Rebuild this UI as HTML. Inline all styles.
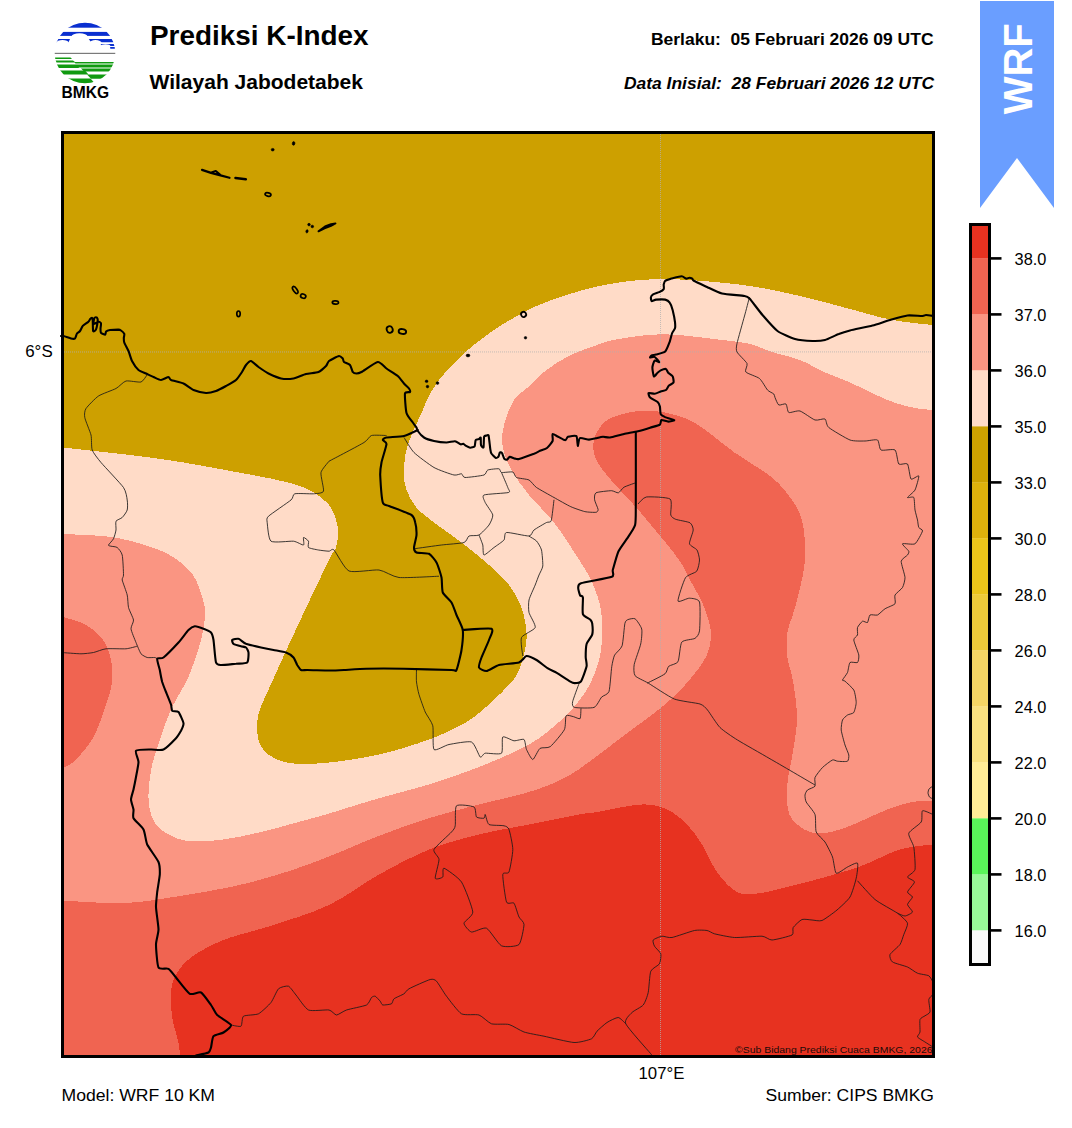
<!DOCTYPE html>
<html><head><meta charset="utf-8">
<style>
html,body{margin:0;padding:0;background:#fff;}
body{width:1072px;height:1128px;position:relative;overflow:hidden;font-family:"Liberation Sans",sans-serif;color:#000;}
.t{position:absolute;white-space:nowrap;line-height:1;}
svg{position:absolute;left:0;top:0;}
</style></head><body>
<svg width="1072" height="1128" viewBox="0 0 1072 1128" font-family="'Liberation Sans', sans-serif">
<defs><clipPath id="logoc"><circle cx="85" cy="53" r="30.3"/></clipPath></defs>
<g clip-path="url(#logoc)">
<rect x="50" y="20" width="70" height="7.7" fill="#0A2FD0"/>
<rect x="50" y="31.9" width="70" height="4" fill="#0A2FD0"/>
<path d="M50,39.1 H70 L68.5,42.2 H50 Z" fill="#0A2FD0"/>
<path d="M88.8,39.1 H120 V42.2 H91 Z" fill="#0A2FD0"/>
<path d="M100.5,44 H120 V45.9 H102 Z" fill="#0A2FD0"/>
<path d="M109.5,47.1 H120 V48.7 H110.5 Z" fill="#0A2FD0"/>
<ellipse cx="79.5" cy="36.4" rx="8" ry="3.2" fill="#fff"/>
<ellipse cx="62.5" cy="42.6" rx="6" ry="2.6" fill="#fff"/>
<ellipse cx="95.5" cy="42.8" rx="6" ry="2.7" fill="#fff"/>
<ellipse cx="105.5" cy="46.5" rx="5" ry="2.2" fill="#fff"/>
<rect x="50" y="52.8" width="70" height="1.2" fill="#7a7a7a"/>
<path d="M50,57.6 H70.5 L72,59 H50 Z" fill="#109A10"/>
<path d="M50,60.4 H73 L75,62 H120 V63.6 H75.5 L74.5,62.4 H50 Z" fill="#109A10"/>
<path d="M50,64.4 H120 V67.4 H79 L78.5,68 H50 Z" fill="#109A10"/>
<path d="M81,68.6 H120 V71.6 H84 Z" fill="#109A10"/>
<path d="M50,70.6 H85 L88.5,74.6 H50 Z" fill="#109A10"/>
<path d="M87,74.6 H120 V78.8 H91 Z" fill="#109A10"/>
<path d="M50,78.6 H90.5 L94,82.5 L89,84 H50 Z" fill="#109A10"/>
</g>
<text x="61.6" y="97.7" font-size="16" font-weight="bold" textLength="47.6" lengthAdjust="spacingAndGlyphs">BMKG</text>
<text x="150" y="45" font-size="28" font-weight="bold" textLength="218.5" lengthAdjust="spacingAndGlyphs">Prediksi K-Index</text>
<text x="149.5" y="88.8" font-size="20.8" font-weight="bold" textLength="213.5" lengthAdjust="spacingAndGlyphs">Wilayah Jabodetabek</text>
<text x="651" y="44.8" font-size="16.4" font-weight="bold" textLength="282.5" lengthAdjust="spacingAndGlyphs" xml:space="preserve">Berlaku:  05 Februari 2026 09 UTC</text>
<text x="624" y="88.7" font-size="16.4" font-weight="bold" font-style="italic" textLength="310" lengthAdjust="spacingAndGlyphs" xml:space="preserve">Data Inisial:  28 Februari 2026 12 UTC</text>
<path d="M980,1 L1054,1 L1054,208 L1017,158 L980,208 Z" fill="#6A9EFF"/>
<text transform="translate(1031.9,68.8) rotate(-90)" font-size="40" font-weight="bold" fill="#fff" text-anchor="middle">WRF</text>
<rect x="61" y="131" width="874" height="927" fill="#FFDBC7"/>
<path d="M935,325 C934.5,325 939.5,325.9 932,325 C924.5,324.1 903.7,322.2 890,319.5 C876.3,316.8 865,312.9 850,309 C835,305.1 816.7,299.8 800,296 C783.3,292.2 767.2,288.6 750,286 C732.8,283.4 711.2,281.6 697,280.5 C682.8,279.4 675.4,279.3 665,279.3 C654.6,279.3 645.8,279.3 634.5,280.5 C623.2,281.7 608.3,284.1 597,286.5 C585.7,288.9 576.6,291.8 566.5,295 C556.4,298.2 546.9,301.2 536.5,306 C526.1,310.8 513.6,317.7 504,323.5 C494.4,329.3 485.7,336 479,341 C472.3,346 469.4,348.5 464,353.5 C458.6,358.5 451.9,364.8 446.5,371 C441.1,377.2 435.7,384 431.5,391 C427.3,398 425.5,404 421.5,413 C417.5,422 410.7,435.5 407.8,445 C404.8,454.5 404.2,462.5 404,470 C403.8,477.5 404.4,483.8 406.5,490 C408.6,496.2 411.9,502.1 416.5,507.5 C421.1,512.9 426.5,516.7 434,522.5 C441.5,528.3 452.3,535.4 461.5,542.5 C470.7,549.6 481.1,557.9 489,565 C496.9,572.1 503.6,577.9 509,585 C514.4,592.1 518.6,599.6 521.5,607.5 C524.4,615.4 525.9,625.4 526.5,632.5 C527.1,639.6 526.2,643.8 525,650 C523.8,656.2 521.2,664.7 519,670 C516.8,675.3 516.1,676.7 511.5,682 C506.9,687.3 499,695.3 491.5,702 C484,708.7 476.9,715.8 466.5,722 C456.1,728.2 443.6,734.1 429,739.5 C414.4,744.9 395.7,750.7 379,754.5 C362.3,758.3 343.7,761 329,762.5 C314.3,764 301.1,764.6 291,763.2 C280.9,761.9 273.9,758.5 268.5,754.5 C263.1,750.5 260.2,746.2 258.5,739.5 C256.8,732.8 256.2,724.1 258.5,714.5 C260.8,704.9 265.4,696.9 272,682 C278.6,667.1 288.5,645.3 298,625 C307.5,604.7 322.7,572.8 329,560 C335.3,547.2 334.5,552.7 336,548 C337.5,543.3 338,536.7 338,532 C338,527.3 337.5,524.5 336,520 C334.5,515.5 333.2,509.8 329,505 C324.8,500.2 318.2,494.8 311,491 C303.8,487.2 298.5,485.2 286,482 C273.5,478.8 256.8,475.8 236,472 C215.2,468.2 189.8,463.1 161,459 C132.2,454.9 79.7,449.4 63,447.5 C46.3,445.6 61.3,447.5 61,447.5 L61,131 L935,131 Z" fill="#CDA000" shape-rendering="crispEdges"/>
<path d="M61,534 C61.3,534 54.7,533.5 63,534 C71.3,534.5 96.8,535 111,537 C125.2,539 137.7,542.7 148,546 C158.3,549.3 165.5,552.2 173,557 C180.5,561.8 188,567.8 193,575 C198,582.2 201,593 203,600 C205,607 205.3,610.3 205,617 C204.7,623.7 203,632 201,640 C199,648 195.5,658 193,665 C190.5,672 189.7,674.6 186,682 C182.3,689.4 175.2,700.3 171,709.5 C166.8,718.7 164.1,727.8 161,737 C157.9,746.2 154.3,754.9 152.2,764.5 C150.2,774.1 148.7,786.2 148.5,794.5 C148.3,802.8 148.9,808.7 151,814.5 C153.1,820.3 155.2,825.1 161,829.5 C166.8,833.9 175.6,839.1 186,840.8 C196.4,842.4 211,841 223.5,839.5 C236,838 248.5,834.9 261,832 C273.5,829.1 287.2,825.1 298.5,822 C309.8,818.9 315.6,817.5 329,813.5 C342.4,809.5 362.3,803.1 379,798.2 C395.7,793.4 412.3,789.7 429,784.5 C445.7,779.3 462.3,773.7 479,767 C495.7,760.3 515.7,752 529,744.5 C542.3,737 551.3,728.5 558.7,722.3 C566.1,716.1 568.6,713.3 573.6,707.4 C578.6,701.5 584.5,694 588.5,686.9 C592.5,679.8 595.6,671.6 597.8,664.5 C600,657.4 601,652.1 601.6,644 C602.2,635.9 602.2,623.8 601.6,616 C601,608.2 599.7,603.5 597.8,597.3 C595.9,591.1 593.5,584.9 590.4,578.7 C587.3,572.5 585.3,569.4 579.2,560 C573.1,550.6 562.4,533.3 554,522.5 C545.6,511.7 536.1,503.8 529,495 C521.9,486.2 515.9,477.9 511.5,470 C507.1,462.1 504,455 502.8,447.5 C501.5,440 502.1,432.9 504,425 C505.9,417.1 510.2,406.1 514,400 C517.8,393.9 521.1,393.5 526.5,388.5 C531.9,383.5 539.4,375.4 546.5,370 C553.6,364.6 560.6,360.2 569,356 C577.4,351.8 588.5,347.9 597,345 C605.5,342.1 608.7,340.6 620,338.8 C631.3,337 648,334.1 665,334.3 C682,334.5 707.8,338.4 722,340 C736.2,341.6 741.7,342 750,344 C758.3,346 763.7,349.3 772,352 C780.3,354.7 791.7,356.8 800,360 C808.3,363.2 813.7,367.2 822,371 C830.3,374.8 839.1,377.7 850,382.5 C860.9,387.3 877.1,395.8 887.5,400 C897.9,404.2 905.1,405.8 912.5,407.5 C919.9,409.2 928.2,409.6 932,410 C935.8,410.4 934.5,410 935,410 L935,1058 L61,1058 Z" fill="#FA9582" shape-rendering="crispEdges"/>
<path d="M61,900.8 C61.4,900.8 53.1,900.4 63.5,900.8 C73.9,901.1 105.2,903.6 123.5,903 C141.8,902.4 154.8,899.9 173.5,897 C192.2,894.1 217.2,889.9 236,885.8 C254.8,881.6 270.5,876.9 286,872 C301.5,867.1 313.5,862.5 329,856.5 C344.5,850.5 362.3,842.1 379,835.8 C395.7,829.4 412.3,823.5 429,818.2 C445.7,813 462.3,808.9 479,804.5 C495.7,800.1 514.4,796.6 529,792 C543.6,787.4 555.2,783 566.5,777 C577.8,771 587.4,762.9 597,756 C606.6,749.1 614.9,742.2 624,735.4 C633.1,728.5 643.5,721.4 651.9,714.9 C660.3,708.4 667.4,702.7 674.3,696.2 C681.1,689.7 687.7,682.2 693,675.7 C698.3,669.2 703,662.9 706,657 C709,651.1 710.1,645.5 710.7,640.2 C711.3,634.9 711.2,631.5 709.8,625.3 C708.4,619.1 705.7,610.7 702.3,602.9 C698.9,595.1 693,585.6 689.3,578.7 C685.6,571.8 683.9,567.2 680,561.3 C676.1,555.4 670.7,548.9 666,543.1 C661.3,537.3 656.7,531.9 652,526.3 C647.3,520.7 642.7,514.9 638,509.5 C633.3,504.1 628.7,499.3 624,494.2 C619.3,489.1 614.4,484.2 610,478.8 C605.6,473.4 600.2,467.1 597.4,462 C594.6,456.9 593.4,452.7 593.2,448 C593,443.3 593.7,438.7 596,434 C598.3,429.3 602,423.5 607.2,420 C612.4,416.5 621.1,414.5 627,413 C632.9,411.5 636.2,411.2 642.6,411.1 C649,411 656.4,410.6 665.2,412.6 C674,414.6 683.8,416.5 695.3,423.1 C706.8,429.8 721.7,443.4 734.5,452.5 C747.3,461.6 762.4,469.6 772,477.5 C781.6,485.4 787,492.9 792,500 C797,507.1 799.8,512.5 802,520 C804.2,527.5 804.7,536.7 805,545 C805.3,553.3 805.4,559.6 803.8,570 C802.1,580.4 797.7,597.1 795,607.5 C792.3,617.9 788.8,624.2 787.5,632.5 C786.2,640.8 786.5,649.2 787.5,657.5 C788.5,665.8 791.7,671.7 793.2,682 C794.8,692.3 797.2,707 797,719.5 C796.8,732 793.7,745.8 792,757 C790.3,768.2 787.4,777.4 787,787 C786.6,796.6 786.6,807.4 789.5,814.5 C792.4,821.6 799.1,826.4 804.5,829.5 C809.9,832.6 814.9,833.7 822,833.2 C829.1,832.8 836.1,831 847,827 C857.9,823 876.6,813.7 887.5,809.5 C898.4,805.3 905.1,803.5 912.5,802 C919.9,800.5 928.2,801 932,800.8 C935.8,800.5 934.5,800.8 935,800.8 L935,1058 L61,1058 Z" fill="#F06451" shape-rendering="crispEdges"/>
<path d="M61,617 C61.3,617 58.8,615.7 63,617 C67.2,618.3 79.3,621.2 86,625 C92.7,628.8 98.8,634.2 103,640 C107.2,645.8 109.5,653 111,660 C112.5,667 112.8,674.6 112,682 C111.2,689.4 109.1,695.3 106,704.5 C102.9,713.7 98.5,727.8 93.5,737 C88.5,746.2 81,754.3 76,759.5 C71,764.7 66,766.6 63.5,768 C61,769.4 61.4,768 61,768  Z" fill="#F06451" shape-rendering="crispEdges"/>
<path d="M180,1058 C180,1057.5 180,1057.6 179.8,1055 C179.5,1052.4 179.8,1048.8 178.5,1042.5 C177.2,1036.2 173.5,1025.8 172.2,1017.5 C171,1009.2 170.4,999.6 171,992.5 C171.6,985.4 172.7,980.8 176,975 C179.3,969.2 183.1,963.3 191,957.5 C198.9,951.7 209.8,945.4 223.5,940 C237.2,934.6 255.9,930.8 273.5,925 C291.1,919.2 311.4,913.4 329,905 C346.6,896.6 362.3,883.8 379,874.5 C395.7,865.2 412.3,856.2 429,849.5 C445.7,842.8 462.3,838.7 479,834.5 C495.7,830.3 512.3,827.8 529,824.5 C545.7,821.2 567.7,816.6 579,814.5 C590.3,812.4 586.5,813.7 597,812 C607.5,810.3 630.3,804.9 642,804.5 C653.7,804.1 659.5,806.2 667,809.5 C674.5,812.8 681.2,818.7 687,824.5 C692.8,830.3 697,836.6 702,844.5 C707,852.4 711.2,864.1 717,872 C722.8,879.9 729.9,888.5 737,892 C744.1,895.5 749.5,894.5 759.5,893.2 C769.5,892 784.5,887.6 797,884.5 C809.5,881.4 823.2,877.8 834.5,874.5 C845.8,871.2 854.1,868.7 865,864.5 C875.9,860.3 888.8,852.8 900,849.5 C911.2,846.2 926.2,845.3 932,844.5 C937.8,843.7 934.5,844.5 935,844.5 L935,1058 Z" fill="#E73220" shape-rendering="crispEdges"/>
<line x1="62" y1="352" x2="934" y2="351.9" stroke="#b0b0b0" stroke-opacity="0.75" stroke-width="1" stroke-dasharray="1,1"/>
<line x1="660.5" y1="132" x2="660.5" y2="1057" stroke="#b0b0b0" stroke-opacity="0.75" stroke-width="1" stroke-dasharray="1,1"/>
<path d="M147,375 C146.4,375.7 143.1,381.4 141,382 C138.9,382.6 128.5,380.4 126,381 C123.5,381.6 118.8,387 116,388.5 C113.2,390 101.5,394 98.5,396 C95.5,398 87.4,406.4 86,408.5 C84.6,410.6 84.2,414.9 84.8,417.5 C85.2,420.1 90.2,431.8 91,435 C91.8,438.2 91.2,447.2 92.2,450 C93.2,452.8 97.9,458.8 101,462.5 C104.1,466.2 120.9,483.8 123.5,487.5 C126.1,491.2 126.9,497.8 127.2,500 C127.6,502.2 127.8,508.2 127.2,510 C126.8,511.8 123.4,516.4 122.2,517.5 C121.1,518.6 116.6,520 116,521.2 C115.4,522.5 116.2,528.2 116,530 C115.8,531.8 114.2,537.2 113.5,538.8 C112.8,540.2 108.8,544.2 108.5,545 C108.2,545.8 110.1,546 111,546.2 C111.9,546.5 116.1,546.6 117.2,547.5 C118.4,548.4 121.6,552.2 122.2,555 C122.9,557.8 123.5,572.5 123.5,575 C123.5,577.5 121.9,578 122.2,580 C122.6,582 126.6,592.2 127.2,595 C127.9,597.8 127.9,605 128.5,607.5 C129.1,610 133.2,617.9 133.5,620 C133.8,622.1 130.8,626.5 131,628.8 C131.2,631 135,640 136,642.5 C137,645 139.9,652.2 141,653.8 C142.1,655.2 145.9,657.1 147.2,657.5 C148.6,657.9 153.8,657.4 154.8,657.5 C155.8,657.6 157,658.6 157.2,658.8" fill="none" stroke="#1a1a1a" stroke-width="0.85" stroke-linejoin="round"/>
<path d="M61,652.5 C63,652.6 77.8,653.8 81,653.8 C84.2,653.8 91,653 93.5,652.5 C96,652 102.8,649.1 106,648.8 C109.2,648.4 122.9,649 126,648.8 C129.1,648.5 136.1,646.5 137.2,646.2" fill="none" stroke="#1a1a1a" stroke-width="0.85" stroke-linejoin="round"/>
<path d="M329,461.2 C328.2,462.4 321.6,469.5 321,472.5 C320.4,475.5 324.2,489.1 323.5,491.2 C322.8,493.4 316.4,493.5 313.5,493.8 C310.6,494 297,493.1 294.8,493.8 C292.5,494.4 293.6,497.8 291,500 C288.4,502.2 270.9,514 268.5,516.2 C266.1,518.5 267,520 267.2,522.5 C267.5,525 268.4,539.4 271,541.2 C273.6,543.1 290.2,540.9 293.5,541.2 C296.8,541.6 302.5,545.4 303.5,545 C304.5,544.6 303,537.9 303.5,537.5 C304,537.1 308,540.2 308.5,541.2 C309,542.2 307.5,546.6 308.5,547.5 C309.5,548.4 316.4,549.6 318.5,550 C320.6,550.4 327.4,551.2 329,551.2 C330.6,551.2 332,548 334,550 C336,552 344.5,569 349,571 C353.5,573 374,569.4 379,570 C384,570.6 393,576.9 399,577.5 C405,578.1 435,576.4 439,576.2" fill="none" stroke="#1a1a1a" stroke-width="0.85" stroke-linejoin="round"/>
<path d="M329,461.2 C332.5,459.4 359.8,445.1 364,442.5 C368.2,439.9 369.2,436.2 371.5,435.5 C373.8,434.8 385,435.5 386.5,435.5" fill="none" stroke="#1a1a1a" stroke-width="0.85" stroke-linejoin="round"/>
<path d="M404,437.5 C405,439 411,449.5 414,452.5 C417,455.5 430,465.2 434,467.5 C438,469.8 451.2,474.4 454,475 C456.8,475.6 460.4,473.5 461.5,473.8 C462.6,474 462.8,477.4 465,477.5 C467.2,477.6 481.7,475.8 484,475 C486.3,474.2 486.2,470.6 487.8,470 C489.2,469.4 497.6,468.5 499,468.8 C500.4,469 500.1,472.2 501.5,472.5 C502.9,472.8 511.2,471.5 512.8,472 C514.2,472.5 514.9,476.7 516.5,477.5 C518.1,478.3 527,479 529,480 C531,481 534,485.8 536.5,487.5 C539,489.2 550.6,495.6 554,497.5 C557.4,499.4 567.7,505.3 570.8,506.7 C573.9,508.1 582.3,511 584.8,511.6 C587.3,512.2 594.7,512.5 596,512.3 C597.3,512.1 598.2,510.8 598.1,509.5 C598,508.2 594.8,501.5 594.6,499.8 C594.4,498.1 594.3,493.7 596,492.8 C597.7,491.9 609.2,490.7 611.4,490.7 C613.6,490.7 617.1,493.2 618.4,492.8 C619.7,492.4 622.3,488.2 624,487.2 C625.7,486.2 634,483.4 635.1,483" fill="none" stroke="#1a1a1a" stroke-width="0.85" stroke-linejoin="round"/>
<path d="M501.5,472.5 C502.1,474 507.1,485.5 507.8,487.5 C508.4,489.5 510.9,491.8 508.5,492.5 C506.1,493.2 486.3,494 484,495 C481.7,496 484.4,500.5 485.2,502.5 C486.1,504.5 492.4,512.8 492.8,515 C493.1,517.2 490.4,523 489,525 C487.6,527 481,533.9 479,535 C477,536.1 470.5,535.2 469,536 C467.5,536.8 466.8,541.6 464,542.5 C461.2,543.4 446.5,544.4 441.5,545 C436.5,545.6 416.8,548.4 414,548.8" fill="none" stroke="#1a1a1a" stroke-width="0.85" stroke-linejoin="round"/>
<path d="M479,535 C479.4,536 482.2,543 482.8,545 C483.2,547 482.9,554.8 484,555 C485.1,555.2 492,549 494,547.5 C496,546 502.8,541.5 504,540 C505.2,538.5 504,532.9 506.5,532.5 C509,532.1 526.2,536.2 529,536 C531.8,535.8 532.2,531.4 534,530 C535.8,528.6 544.8,523.4 546.5,522.5 C548.2,521.6 550.5,523 551.2,520.7 C552,518.4 553.7,501.9 554,499.8" fill="none" stroke="#1a1a1a" stroke-width="0.85" stroke-linejoin="round"/>
<path d="M529,536.2 C529.8,536.7 535.2,539.6 536.5,541 C537.8,542.4 540.9,547.5 541.5,550 C542.1,552.5 543,563.5 542.8,566 C542.5,568.5 539.8,573.1 539,575 C538.2,576.9 536.2,582.5 535.2,585 C534.2,587.5 529.6,597.2 529,600 C528.4,602.8 528.4,609.8 529,612.5 C529.6,615.2 536,625 535.2,627.5 C534.5,630 522.8,634.6 521.5,637.5 C520.2,640.4 522.6,654.1 522.8,656" fill="none" stroke="#1a1a1a" stroke-width="0.85" stroke-linejoin="round"/>
<path d="M416.5,668.8 C416.5,670.1 416.2,679.4 416.5,682 C416.8,684.6 418.1,691.5 419,694.5 C419.9,697.5 423.9,708.9 425.2,712 C426.6,715.1 431.9,722 432.8,725.8 C433.6,729.5 432.4,747.6 434,749.5 C435.6,751.4 445.2,745.2 449,744.5 C452.8,743.8 468.4,740.8 471.5,742 C474.6,743.2 478.9,755.9 480.2,757 C481.6,758.1 483.1,753.6 485.2,753.2 C487.4,752.9 499.8,754.9 501.5,753.2 C503.2,751.6 501.5,738.2 502.8,737 C504,735.8 511.9,740.5 514,740.8 C516.1,741 522.8,738.6 524,739.5 C525.2,740.4 525.6,747.5 526.5,749.5 C527.4,751.5 531.4,759.6 532.8,759.5 C534.1,759.4 538.2,749.7 540,748.4 C541.8,747.1 547.9,748.5 550.3,746.6 C552.7,744.7 562.7,732.9 564.3,729.8 C565.9,726.7 565.2,717.1 566.1,715.8 C567,714.5 572.2,716.4 573.6,716.7 C575,717 579.4,719.4 580.1,718.6 C580.8,717.8 580.9,709.3 581,708.3" fill="none" stroke="#1a1a1a" stroke-width="0.85" stroke-linejoin="round"/>
<path d="M579.2,683.1 C578.5,685 573.1,699.4 572.6,701.8 C572.1,704.2 572.4,706.8 574.5,707.4 C576.6,708 591.4,708.4 594.1,707.4 C596.8,706.4 600.1,698.7 601.6,697.1 C603.1,695.5 608,694.6 609,691.5 C610,688.4 611.2,669.9 611.8,666.3 C612.4,662.7 613.6,657.1 614.6,655.1 C615.6,653.1 621.1,649 622.1,645.8 C623.1,642.6 624.3,626 624.9,623.4 C625.5,620.8 626.7,620.2 627.7,619.7 C628.7,619.2 633.7,617.9 635.1,618.8 C636.5,619.7 641.1,626.5 641.7,629 C642.3,631.5 641.5,640.5 640.7,644 C640,647.5 634.8,661.3 634.2,664.5 C633.6,667.7 633.7,673.8 635.1,675.7 C636.5,677.6 644.3,680.8 648.2,683.1 C652.1,685.4 669.1,696.9 674.3,699 C679.5,701.1 696.7,702.9 700,704 C703.3,705.1 705.5,707.6 707.5,710 C709.5,712.4 717,724.5 720,727.5 C723,730.5 732.5,736.9 737.5,740 C742.5,743.1 762.2,754.2 770,758.8 C777.8,763.2 810.5,782.4 815,785" fill="none" stroke="#1a1a1a" stroke-width="0.85" stroke-linejoin="round"/>
<path d="M647.3,683.1 C649.1,682.2 662.9,675.5 665,673.8 C667.1,672.1 667.4,667.5 668.7,666.3 C670,665.1 676.7,664.1 678,661.7 C679.3,659.3 680.1,644.4 681.8,642.1 C683.5,639.8 693.1,639.5 694.9,638.4 C696.7,637.3 699,634.5 699.5,630.9 C700,627.3 700.5,605.3 699.5,602 C698.5,598.7 691.4,598.3 689.3,598.2 C687.1,598.1 678.4,603 678,601 C677.6,599 683.6,580.7 685.5,577.7 C687.4,574.7 695.3,573 696.7,571.2 C698.1,569.4 699.5,562.1 699.5,560 C699.5,557.9 698,551.6 697,550 C696,548.4 689.9,545.8 689.5,543.8 C689.1,541.8 693.2,532.1 693.2,530 C693.3,527.9 691.8,523.9 690,522.8 C688.2,521.7 677.6,520.1 675.7,519.3 C673.8,518.5 671.4,517.1 670.8,515.1 C670.2,513.1 672.6,500.8 670.1,499 C667.6,497.2 649.5,496.5 646.3,497 C643.1,497.5 638.8,503.3 638,504" fill="none" stroke="#1a1a1a" stroke-width="0.85" stroke-linejoin="round"/>
<path d="M749.5,297 C749,298.9 745.8,311.4 744.5,316 C743.2,320.6 737.8,339.9 737,343.5 C736.2,347.1 736,350 737,352 C738,354 746.1,361.5 747,363.5 C747.9,365.5 744.5,370.5 745.8,372 C747,373.5 757.3,376.7 759.5,378.5 C761.7,380.3 766.1,388.4 767.5,390 C768.9,391.6 773,393.2 773.8,394 C774.5,394.8 774.5,396.4 775,397.5 C775.5,398.6 777.6,404.4 778.8,405 C779.9,405.6 785,403.2 786,404 C787,404.8 787.4,411.8 788.8,412.5 C790.1,413.2 797.4,410.2 800,411 C802.6,411.8 812.5,419.2 815,420 C817.5,420.8 823.6,418.2 825,419 C826.4,419.8 826.2,425.4 828.8,427.5 C831.2,429.6 846.4,438.6 850,440 C853.6,441.4 862.2,441 865,441 C867.8,441 875.9,439.1 877.5,440 C879.1,440.9 879.2,449 881,450 C882.8,451 893.2,448.6 895,450 C896.8,451.4 897.5,462.6 898.8,464 C900,465.4 906.3,462.5 907.5,464 C908.7,465.5 909.9,477.8 911,479 C912.1,480.2 918.4,474.9 918.8,476 C919.1,477.1 916.1,487.9 915,490 C913.9,492.1 907.6,496.8 907.5,497.5 C907.4,498.2 913,496.2 913.8,497.5 C914.5,498.8 914.6,507.8 915,510 C915.4,512.2 917.1,518.2 917.5,520 C917.9,521.8 918.2,526.4 918.8,527.5 C919.2,528.6 922.9,529.4 922.5,531 C922.1,532.6 917,542.5 915,543.8 C913,545 903.1,543 902.5,543.8 C901.9,544.5 908.2,550.1 908.8,551.2 C909.2,552.4 908.2,554 907.5,555 C906.8,556 901.5,559 901.2,561.2 C901,563.5 904.9,574.9 905,577.5 C905.1,580.1 903.5,585.8 902.5,587.5 C901.5,589.2 895.8,593.4 895,595 C894.2,596.6 896,602.4 895,603.8 C894,605.1 886.8,607.6 885,608.8 C883.2,609.9 879,614.4 877.5,615 C876,615.6 871,614.2 870,615 C869,615.8 868.2,621.9 867.5,622.5 C866.8,623.1 863.5,620.8 862.5,621.2 C861.5,621.8 858,626.1 857.5,627.5 C857,628.9 857.9,633.8 857.5,635 C857.1,636.2 853.6,638 853.8,640 C853.9,642 858.4,652.8 858.8,655 C859.1,657.2 858.4,661.8 857.5,662.5 C856.6,663.2 851,661.5 850,662.5 C849,663.5 848.2,670.8 847.5,672.5 C846.8,674.2 842.8,679.1 842.5,680 C842.2,680.9 843.9,680.2 845,681.2 C846.1,682.2 852.6,687.9 853.8,690 C854.9,692.1 856.2,700.2 856.2,702.5 C856.2,704.8 854.6,711.2 853.8,712.5 C852.9,713.8 848.6,714.2 847.5,715 C846.4,715.8 843.1,718.5 842.5,720 C841.9,721.5 841,727.5 841.2,730 C841.5,732.5 844.2,742.5 845,745 C845.8,747.5 848.5,753.4 848.8,755 C849,756.6 848.6,760.6 847.5,761.2 C846.4,761.9 839,761.4 837.5,761.2 C836,761.1 834,759.4 832.5,760 C831,760.6 824.2,765.8 822.5,767.5 C820.8,769.2 815.8,775.6 815,777.5 C814.2,779.4 815.8,785 815,786.2 C814.2,787.5 808.5,789.1 807.5,790 C806.5,790.9 805.1,793.8 805,795 C804.9,796.2 805.2,800 806.2,802 C807.2,804 814,811.5 815,814.5 C816,817.5 815.2,829.2 816.2,832 C817.2,834.8 823.4,839.5 825,842 C826.6,844.5 831.4,853.9 832.5,857 C833.6,860.1 834.8,872.2 836.2,873.2 C837.8,874.2 845.4,868 847.5,867 C849.6,866 856.6,862.1 857.5,863.2 C858.4,864.4 857,874.9 856.2,878.2 C855.5,881.6 851.9,893.8 850,897 C848.1,900.2 839.8,907.6 837,910 C834.2,912.4 824.5,919.5 822,920.5 C819.5,921.5 814,920.1 812,920 C810,919.9 803.9,918.8 802,919.5 C800.1,920.2 794.2,926 793.2,927.5 C792.2,929 794.1,933.8 792,935 C789.9,936.2 775,939.9 772,940 C769,940.1 765.8,936.5 762,936.2 C758.2,936 739.2,937.8 734.5,937.5 C729.8,937.2 717.2,934.5 714.5,933.8 C711.8,933 709,930.8 707,930.5 C705,930.2 698,929.8 694.5,930.5 C691,931.2 675.2,936.9 672,937.5 C668.8,938.1 663.9,936 662,936.2 C660.1,936.5 654,939 653.2,940 C652.5,941 653.8,944.9 654.5,946.2 C655.2,947.6 660.2,952 660.8,953.8 C661.2,955.5 660.5,962 659.5,963.8 C658.5,965.5 651.9,968.4 650.8,971.2 C649.6,974.1 649,989.1 648.2,992.5 C647.5,995.9 644.9,1003 643.2,1005 C641.6,1007 633.8,1010.6 632,1012.5 C630.2,1014.4 623.9,1019.6 625.8,1023.8 C627.6,1027.9 648.1,1050.5 650.8,1053.8 C653.4,1057 651.9,1055.8 652,1056" fill="none" stroke="#1a1a1a" stroke-width="0.85" stroke-linejoin="round"/>
<path d="M857.5,880.8 C859.2,882.6 871,896.2 875,899.5 C879,902.8 894.2,910.9 897.5,913.2 C900.8,915.6 906.9,921.1 907.5,923.2 C908.1,925.4 904.5,932.4 903.8,934.5 C903,936.6 901.4,942.5 900,944.5 C898.6,946.5 890.8,952.8 890,954.5 C889.2,956.2 890.8,960.8 892.5,962 C894.2,963.2 905,965.9 907.5,967 C910,968.1 915.4,972.4 917.5,973.2 C919.6,974.1 927.2,974.9 928.8,975.8 C930.3,976.6 932.6,981.4 933,982" fill="none" stroke="#1a1a1a" stroke-width="0.85" stroke-linejoin="round"/>
<path d="M897.5,913.2 C898.2,913.5 903.5,916.1 905,916 C906.5,915.9 912.2,913.1 912.5,912 C912.8,910.9 907.5,906 907.5,904.5 C907.5,903 912.5,898.2 912.5,897 C912.5,895.8 907.3,893.5 907.5,892 C907.7,890.5 914.5,883.5 914.5,882 C914.5,880.5 907.5,878.2 907.5,877 C907.5,875.8 914.4,872.5 915,869.5 C915.6,866.5 914.4,850.6 913.8,847 C913.1,843.4 908,835.8 908.8,833.2 C909.5,830.8 919.9,824.2 921.2,822 C922.6,819.8 921.3,811.5 922.5,810.8 C923.7,810 932,814.1 933,814.5" fill="none" stroke="#1a1a1a" stroke-width="0.85" stroke-linejoin="round"/>
<path d="M933,994.5 C932.6,995 929,997.8 928.8,999.5 C928.5,1001.2 930.4,1010.4 930,1012 C929.6,1013.6 926,1015 925,1015.8 C924,1016.5 920.5,1017.9 920,1019.5 C919.5,1021.1 920.2,1030.2 920,1032 C919.8,1033.8 917,1036 917.5,1037 C918,1038 923.5,1041 925,1042 C926.5,1043 932.2,1046.5 933,1047" fill="none" stroke="#1a1a1a" stroke-width="0.85" stroke-linejoin="round"/>
<path d="M933,786 C932.6,786.3 929.5,788.3 929,789 C928.5,789.7 928,792.2 928,793 C928,793.8 929,796.4 929.5,797 C930,797.6 932.6,798.8 933,799" fill="none" stroke="#1a1a1a" stroke-width="0.85" stroke-linejoin="round"/>
<path d="M231,1025 C232,1025.1 239.8,1027.1 241,1026.2 C242.2,1025.4 241.8,1017.5 243.5,1016.2 C245.2,1015 255.8,1015.1 258.5,1013.8 C261.2,1012.4 269,1005 271,1002.5 C273,1000 276.8,990.4 278.5,988.8 C280.2,987.1 286.8,985.6 288.5,986.2 C290.2,986.9 294,992.6 296,995 C298,997.4 305.2,1008.5 308.5,1010 C311.8,1011.5 326.2,1009.5 329,1010 C331.8,1010.5 334.8,1015 336.5,1015 C338.2,1015 343.5,1011 346.5,1010 C349.5,1009 364,1006.2 366.5,1005 C369,1003.8 370.6,998.4 371.5,997.5 C372.4,996.6 374.4,995.9 375.2,996.2 C376.1,996.6 379.5,1000.4 380.2,1001.2 C381,1002.1 381.6,1004.8 382.8,1005 C383.9,1005.2 390.4,1004.4 391.5,1003.8 C392.6,1003.1 392.8,999.8 394,998.8 C395.2,997.8 402.5,994.8 404,993.8 C405.5,992.8 406.4,990.2 409,988.8 C411.6,987.3 427.5,980.2 430.2,979.5 C433,978.8 434.9,979.6 436.5,981.2 C438.1,982.9 444,993 446.5,996.2 C449,999.5 458.2,1011.9 461.5,1013.8 C464.8,1015.6 476,1014 479,1015 C482,1016 488.5,1022.8 491.5,1023.8 C494.5,1024.7 505.8,1023.7 509,1024.5 C512.2,1025.3 520.5,1030.8 524,1032 C527.5,1033.2 539,1035.2 544,1036.2 C549,1037.3 569.2,1042.2 574,1042.5 C578.8,1042.8 589.2,1039.9 591.5,1038.8 C593.8,1037.6 595.5,1032.9 597,1031.2 C598.5,1029.6 604.9,1023.9 607,1022.5 C609.1,1021.1 616.4,1017.4 618.2,1017.5 C620.1,1017.6 625,1023.1 625.8,1023.8" fill="none" stroke="#1a1a1a" stroke-width="0.85" stroke-linejoin="round"/>
<path d="M456.5,805.8 C458.4,803.9 472,805.9 474,807 C476,808.1 475.5,815.9 476.5,817 C477.5,818.1 483.1,818.5 484,818.2 C484.9,818 484.8,813.9 485.2,814.5 C485.8,815.1 487.1,823.4 489,824.5 C490.9,825.6 502,825.2 504,825.8 C506,826.2 508.1,827.1 509,829.5 C509.9,831.9 512.8,845.2 512.8,849.5 C512.8,853.8 510,869.5 509,872 C508,874.5 503,871.5 502.8,874.5 C502.5,877.5 505.4,899.1 506.5,902 C507.6,904.9 512.8,901.8 514,903.2 C515.2,904.8 518,914.9 519,917 C520,919.1 524,921.8 524,924.5 C524,927.2 521.2,942.4 519,944.5 C516.8,946.6 504.8,947.4 501.5,945.8 C498.2,944.1 489.5,929.6 486.5,928.2 C483.5,926.9 473.8,932.5 471.5,932 C469.2,931.5 463.9,925.2 464,923.2 C464.1,921.2 473,916.1 472.8,912 C472.5,907.9 464.4,886.4 461.5,882 C458.6,877.6 445.9,868.8 444,868.2 C442.1,867.8 443.6,876 442.8,877 C441.9,878 435.6,880 435.2,878.2 C434.9,876.5 439.1,862.4 439,859.5 C438.9,856.6 432.8,852.2 434,849.5 C435.2,846.8 449.4,834.4 451.5,832 C453.6,829.6 454.8,828.4 455.2,825.8 C455.8,823.1 454.6,807.6 456.5,805.8 Z" fill="none" stroke="#1a1a1a" stroke-width="0.85" stroke-linejoin="round"/>
<path d="M61,336 C61.2,336 62.5,335.8 63.5,336 C64.5,336.2 69.8,338.2 71,338.5 C72.2,338.8 74.4,339 75,338.5 C75.6,338 76.5,334.2 77,333.5 C77.5,332.8 79.4,331.8 80,331 C80.6,330.2 82,326.8 82.8,325.9 C83.6,325 87.7,322.4 88.4,321.7 C89.2,321 89.9,319.2 90.3,318.9 C90.7,318.6 92.3,317.2 92.6,318.4 C92.9,319.6 92.8,329.9 93.1,331 C93.4,332.1 95.4,330.7 95.9,329.6 C96.4,328.5 97.6,321.5 97.7,320.3 C97.8,319.1 97.1,317.8 96.8,317.5 C96.5,317.2 95.2,317.3 94.9,317.5 C94.6,317.7 94.1,318.7 94,319.3 C93.9,319.9 93.1,323.8 93.6,324 C94.1,324.2 98,321.8 98.7,321.7 C99.4,321.6 100.8,322.8 101,323.5 C101.2,324.2 100.5,327.8 100.5,328.7 C100.5,329.6 100.5,332.3 101,332.9 C101.5,333.5 104.7,334.8 105.2,334.7 C105.7,334.6 105.6,332 106.1,331.5 C106.6,331 108.7,330.2 109.9,330 C111.1,329.8 117.1,329.6 118.2,329.6 C119.3,329.7 120.4,330.1 121,330.5 C121.6,330.9 124,333.1 124.3,333.8 C124.6,334.6 123.8,337.1 123.8,338 C123.8,338.9 123.8,341.3 124.3,342.6 C124.8,343.9 127.7,349.2 128.5,351 C129.3,352.8 131,359.1 132,361 C133,362.9 137.1,368.8 138.5,370 C139.9,371.2 144.5,372.8 146,373.5 C147.5,374.2 152,376.4 153.5,377 C155,377.6 159.5,380 161,380 C162.5,380 167.5,377 168.5,377 C169.5,377 169.5,379.4 171,380 C172.5,380.6 181.2,382.5 183.5,383.5 C185.8,384.5 191.2,389.1 193.5,390 C195.8,390.9 203.8,392.9 206,393 C208.2,393.1 214,391.7 216,391 C218,390.3 224,387.1 226,386 C228,384.9 234.4,381.4 236,380 C237.6,378.6 241,373.5 242,372 C243,370.5 245.1,366.1 246,365 C246.9,363.9 249.8,360.8 251,361 C252.2,361.2 256.8,365.8 258.5,367 C260.2,368.2 266.2,372.4 268.5,373.5 C270.8,374.6 278.5,378 281,378.5 C283.5,379 291,378.9 293.5,378.5 C296,378.1 303.5,374.6 306,374 C308.5,373.4 316.5,372.8 318.5,372 C320.5,371.2 324.9,367.1 326,366 C327.1,364.9 327.7,362 329,361 C330.3,360 337.6,356.2 339,356 C340.4,355.8 342.2,357.9 342.8,358.5 C343.2,359.1 343.3,361.4 344,362 C344.7,362.6 349.1,364 350,365 C350.9,366 352.1,371.1 352.8,372 C353.4,372.9 355.6,373.5 356.5,373.5 C357.4,373.5 359.4,373.1 361.5,372 C363.6,370.9 375.2,362.4 377.8,362 C380.2,361.6 384.5,367.1 386.5,368.5 C388.5,369.9 396,374.5 397.8,376 C399.5,377.5 402.9,382.2 404,383.5 C405.1,384.8 408.4,387.6 409,388.5 C409.6,389.4 410.4,391.5 410,392 C409.6,392.5 405.4,391.4 405,393.5 C404.6,395.6 405.7,410.1 406.5,413 C407.3,415.9 411.8,421.1 412.8,422.5 C413.8,423.9 416,426.6 416.5,427.5 C417,428.4 417,430 417.8,431 C418.5,432 422.4,436.5 424,437.5 C425.6,438.5 431.8,440.5 434,441 C436.2,441.5 444.4,442.5 446.5,442.5 C448.6,442.5 453.6,441 455,441.2 C456.4,441.4 459.8,444.1 460.6,444.3 C461.4,444.6 462.9,443.6 463.4,443.7 C463.9,443.8 464.9,445.3 465.6,445.7 C466.3,446.1 469.2,447.6 470.1,447.7 C471,447.8 474,447.1 474.6,446.3 C475.2,445.5 475.2,440.8 475.7,440.1 C476.1,439.4 478.6,439.2 479.1,439 C479.6,438.8 480.5,437 480.7,437.6 C480.9,438.2 480.7,444.1 481,445.1 C481.3,446.1 483.2,448.2 483.5,447.4 C483.8,446.6 483.8,438 484.1,436.8 C484.4,435.6 485.9,435.7 486.3,435.6 C486.8,435.5 488.2,434.2 488.6,435.6 C489,437 490,447.3 490.3,449.1 C490.6,450.9 490.8,452.6 491.4,453.5 C492,454.4 495.2,457.7 495.9,458 C496.6,458.3 498.2,456.9 498.6,456.3 C499,455.7 499.5,452.7 499.8,452.4 C500.1,452.1 501.6,452.4 502,453 C502.4,453.6 503.7,457.9 504.2,458.6 C504.7,459.3 506.4,459.9 507,459.7 C507.6,459.5 509,457 509.8,456.9 C510.6,456.8 514.1,458.4 515,458.6 C515.9,458.8 517.1,459.5 519,459 C520.9,458.5 531.9,454.6 534,453.8 C536.1,452.9 538.7,451.4 540,450.8 C541.3,450.2 545.7,449 547,448 C548.3,447 552,442.4 552.6,441 C553.2,439.6 552,434.4 552.6,434 C553.2,433.6 556.9,436.2 558.2,436.8 C559.5,437.4 564.2,440.3 565.2,440.3 C566.2,440.3 566.9,437.2 568,436.8 C569.1,436.4 575.4,435.2 576.4,436.1 C577.4,437 577.4,445.7 577.8,445.9 C578.1,446.1 578.8,438.8 579.9,438.2 C581,437.6 587.4,439.6 589,439.6 C590.6,439.6 594.6,438.5 596,438.2 C597.4,437.9 601.6,436.9 603,436.8 C604.4,436.7 607.9,437.8 610,437.5 C612.1,437.2 621.2,434.6 624,434 C626.8,433.4 635.4,431.8 638,431.2 C640.6,430.6 647.9,428.4 650.1,427.7 C652.3,427 658.8,425.4 659.9,424.6 C661,423.8 660.6,420.4 661.4,420.1 C662.2,419.8 666.9,421.6 668.2,421.6 C669.5,421.6 674.5,420.6 674.2,420.1 C673.9,419.7 666.6,417.7 665.2,417.1 C663.9,416.5 661.2,415.2 660.7,414.1 C660.2,413.1 660.2,407.8 659.9,406.6 C659.6,405.4 658.6,402.9 657.6,402 C656.6,401.1 651,398.4 650.1,397.5 C649.2,396.6 648.1,393.4 648.6,393 C649.1,392.6 653.4,393.9 654.6,393.8 C655.8,393.7 659.6,391.9 660.7,391.5 C661.8,391.1 665.2,390.6 666,390 C666.8,389.4 668.2,386.2 669,385.5 C669.8,384.8 673.1,383.4 673.5,382.5 C673.9,381.6 673.2,377.4 672.7,376.4 C672.2,375.4 668.9,373.4 668.2,372.7 C667.5,371.9 666.6,369.1 665.9,368.9 C665.1,368.7 661.5,370 660.7,370.4 C659.9,370.8 658.3,372.1 657.6,372.7 C656.9,373.3 654.4,376.9 653.9,376.4 C653.4,375.9 652.3,369 652.4,367.4 C652.5,365.8 653.9,361.1 654.6,360.6 C655.3,360.1 659.2,362.5 659.2,362.1 C659.2,361.7 655.5,357.3 654.6,356.9 C653.7,356.4 650.4,357.8 650.1,357.6 C649.8,357.5 651,355.7 651.6,355.4 C652.2,355.1 654.7,355 656.1,354.6 C657.5,354.2 663.8,352.9 665.2,351.6 C666.6,350.3 669,343.6 669.7,341.8 C670.4,340 671.5,334.9 672,333.5 C672.5,332.1 674.7,329.4 675,328.3 C675.3,327.2 675.2,324 675,322.2 C674.8,320.4 673.2,312.2 672.7,310.2 C672.2,308.2 670.5,303.7 669.7,302.6 C669,301.5 666.6,299.9 665.2,299.6 C663.8,299.3 657.5,299.5 656.1,299.6 C654.7,299.8 652.1,301.3 651.6,301.1 C651.1,300.9 650.8,298.1 650.9,297.4 C651,296.7 652.3,294.9 653.1,294.4 C653.9,293.9 658.1,292.6 659.2,292.1 C660.3,291.6 663.2,289.9 663.7,289.1 C664.2,288.4 663.6,285.4 663.7,284.6 C663.9,283.8 664.5,281.4 665.2,280.8 C666,280.2 669.6,279.1 671.2,278.6 C672.9,278.2 680.2,276.3 681.7,276.3 C683.2,276.3 685.5,278.5 686.3,278.6 C687.1,278.8 688.7,277.8 689.3,277.8 C689.9,277.8 691.8,278.3 692.3,278.6 C692.8,278.9 692.3,280 693.8,280.8 C695.3,281.6 704.2,285.7 707,287 C709.8,288.3 718.2,292.6 722,293.5 C725.8,294.4 741.8,295.5 744.5,296 C747.2,296.5 747.7,296.6 749.5,298.5 C751.3,300.4 759.7,311.8 762.5,315 C765.3,318.2 774.2,328.6 777.5,331 C780.8,333.4 791.5,338 795,339 C798.5,340 809.5,340.9 812.5,341 C815.5,341.1 822.4,340.7 825,340 C827.6,339.3 836.2,334.9 838.8,334 C841.2,333.1 846.6,331.4 850,330.5 C853.4,329.6 868.5,326.6 872.5,325.5 C876.5,324.4 886.5,321 890,320 C893.5,319 904.2,315.9 907.5,315.5 C910.8,315.1 920.6,316.1 922.5,316 C924.4,315.9 924.9,315 926,315 C927.1,315 933.2,315.9 934,316" fill="none" stroke="#000" stroke-width="2.1" stroke-linejoin="round" stroke-linecap="round"/>
<path d="M417.8,430 C416.4,430.6 407.1,435.2 404,436 C400.9,436.8 388.6,437.1 386.5,437.5 C384.4,437.9 382.8,439.4 382.8,440 C382.8,440.6 386.6,441.8 386.5,444 C386.4,446.2 382.1,459.4 381.5,462.5 C380.9,465.6 380.1,471 380.2,475 C380.4,479 381.9,499.4 382.8,502.5 C383.6,505.6 386.1,504.8 389,506 C391.9,507.2 408.9,513.4 411.5,515 C414.1,516.6 414.8,520.5 415.2,522.5 C415.8,524.5 416.6,532.5 416.5,535 C416.4,537.5 414,545.8 414,547.5 C414,549.2 415,551.9 416.5,552.5 C418,553.1 427,552.8 429,553.8 C431,554.8 435.2,560.1 436.5,562.5 C437.8,564.9 440.9,574.5 441.5,577.5 C442.1,580.5 441.8,590 442.8,592.5 C443.8,595 450.1,600.2 451.5,602.5 C452.9,604.8 455.4,612.2 456.5,615 C457.6,617.8 462.2,626.5 462.8,630 C463.2,633.5 462.1,646 461.5,650 C460.9,654 457.5,668 456.5,670 C455.5,672 456.8,670.1 451.5,670 C446.2,669.9 412.5,668.9 404,668.8 C395.5,668.6 372.5,668.6 366.5,668.8 C360.5,668.9 347.8,669.8 344,670 C340.2,670.2 332.7,670.5 329,670.5 C325.3,670.5 310.1,670 307.2,670 C304.4,670 302,670.5 301,670 C300,669.5 298,666.2 297.2,665 C296.5,663.8 294.6,658.8 293.5,657.5 C292.4,656.2 288,653.2 286,652.5 C284,651.8 276,650.5 273.5,650 C271,649.5 263.8,648.1 261,647.5 C258.2,646.9 248.2,644.6 246,643.8 C243.8,642.9 239.9,639.1 238.5,638.8 C237.1,638.4 232.8,639.5 232.2,640 C231.8,640.5 232.6,643.1 233.5,643.8 C234.4,644.4 239.8,645.9 241,646.2 C242.2,646.6 245.2,646.9 246,647.5 C246.8,648.1 248.4,651 248.5,652.5 C248.6,654 248.5,661.4 247.2,662.5 C246,663.6 238.6,663.5 236,663.8 C233.4,664 223,665.1 221,665 C219,664.9 216.8,665 216,662.5 C215.2,660 214,643 213.5,640 C213,637 212,633.6 211,632.5 C210,631.4 205.1,629.4 203.5,628.8 C201.9,628.1 196.2,626.1 194.8,626.2 C193.2,626.4 190.1,628.4 188.5,630 C186.9,631.6 181,639.8 178.5,642.5 C176,645.2 165.6,655.9 163.5,657.5 C161.4,659.1 157.6,657.5 157.2,658.8 C156.9,660 159.2,667.7 159.8,670 C160.2,672.3 161.6,679.8 162.2,682 C162.9,684.2 165.1,689.8 166,692 C166.9,694.2 170.4,702.6 171,704.5 C171.6,706.4 171.5,710 172.2,710.8 C173,711.5 177.4,710.8 178.5,712 C179.6,713.2 183.2,721.4 183.5,723.2 C183.8,725.1 181.8,729.2 181,730.8 C180.2,732.2 177.8,736.4 176,738.2 C174.2,740.1 166,748.4 163.5,749.5 C161,750.6 153.8,749.4 151,749.5 C148.2,749.6 137.2,749.5 136,750.8 C134.8,752 138.5,759.4 138.5,762 C138.5,764.6 136.5,774.2 136,777 C135.5,779.8 134,787.2 133.5,789.5 C133,791.8 131,797.5 131,799.5 C131,801.5 133.2,807.6 133.5,809.5 C133.8,811.4 132.5,816.2 133.5,818.2 C134.5,820.2 142.1,826.9 143.5,829.5 C144.9,832.1 145.8,841.2 147.2,844.5 C148.8,847.8 157.2,859 158.5,862 C159.8,865 159.9,871.5 159.8,874.5 C159.6,877.5 157.6,888.8 157.2,892 C156.9,895.2 155.9,903.2 156,907 C156.1,910.8 158.5,925.8 158.5,929.5 C158.5,933.2 156,940.7 156,944.5 C156,948.3 157.2,965.1 158.5,967.5 C159.8,969.9 166.8,967.8 168.5,968.8 C170.2,969.8 173.9,975 176,977.5 C178.1,980 187.2,992.2 189.8,993.8 C192.2,995.2 198.9,991.4 201,992.5 C203.1,993.6 209.4,1002.8 211,1005 C212.6,1007.2 215.2,1013 217.2,1015 C219.2,1017 230.4,1023.2 231,1025 C231.6,1026.8 225.2,1031.4 223.5,1032.5 C221.8,1033.6 214.8,1034.8 213.5,1036.2 C212.2,1037.8 211.5,1045.9 211,1047.5 C210.5,1049.1 210,1051.7 208.5,1052.5 C207,1053.3 197.2,1055.2 196,1055.5" fill="none" stroke="#000" stroke-width="2.1" stroke-linejoin="round" stroke-linecap="round"/>
<path d="M462.8,630 C465.6,629.9 488.9,627.8 491.5,628.8 C494.1,629.8 490,637.1 489,640 C488,642.9 482.5,654.8 481.5,657.5 C480.5,660.2 478.5,666.1 479,667.5 C479.5,668.9 484.5,671.2 486.5,671 C488.5,670.8 495.8,665.9 499,665 C502.2,664.1 516.2,663.4 519,662.5 C521.8,661.6 524.8,656.2 526.5,656 C528.2,655.8 534.4,658.8 536.5,660 C538.6,661.2 545.5,666.9 547.5,668.2 C549.5,669.5 554.6,671.6 556.8,672.9 C559,674.2 568.1,680.3 569.9,681.3 C571.7,682.3 573.4,683.1 574.5,683.1 C575.6,683.1 579.8,683 581,681.3 C582.2,679.6 586.1,668.7 586.6,666.3 C587.1,663.9 585.7,659.2 585.7,657 C585.7,654.8 586,646.2 586.6,644 C587.2,641.8 591.6,636.7 592.2,634.6 C592.8,632.5 592.4,624.9 592.2,623.4 C592,621.9 591.3,620.6 590.4,619.7 C589.5,618.8 583.6,616.3 582.9,614.1 C582.1,611.9 583.2,599.2 582.9,597.3 C582.6,595.4 580.6,596.3 580.1,595.4 C579.6,594.5 578.1,589.2 578.2,588 C578.3,586.8 577.6,584.4 581,583.3 C584.4,582.2 608.6,578.1 611.8,576.8 C615,575.5 612.1,572.5 612.8,570 C613.5,567.5 617,554.6 618.4,551.5 C619.8,548.4 625.1,541.5 626.8,538.9 C628.5,536.2 634.2,528.5 635.1,525 C636,521.5 635.7,513.2 635.8,504 C635.9,494.8 635.8,439.7 635.8,432.6" fill="none" stroke="#000" stroke-width="2.1" stroke-linejoin="round" stroke-linecap="round"/>
<ellipse cx="293.6" cy="143.4" rx="1.3" ry="1.8" transform="rotate(10 293.6 143.4)" fill="#000" stroke="#000" stroke-width="0.6"/>
<ellipse cx="272.7" cy="149.7" rx="1.5" ry="1.3" transform="rotate(0 272.7 149.7)" fill="#000" stroke="#000" stroke-width="0.6"/>
<path d="M202,169.9 L211,172.9 L220.5,175.4 L229.5,177.8 M211.5,172.6 L215.8,171 L220.5,175" fill="none" stroke="#000" stroke-width="2.2" stroke-linecap="round" stroke-linejoin="round"/>
<path d="M235.5,178 L245.8,179.3" fill="none" stroke="#000" stroke-width="2.6" stroke-linecap="round"/>
<ellipse cx="268" cy="194.5" rx="3" ry="1.7" transform="rotate(15 268 194.5)" fill="none" stroke="#000" stroke-width="1.7"/>
<ellipse cx="309" cy="224.6" rx="1.3" ry="1.3" transform="rotate(0 309 224.6)" fill="#000" stroke="#000" stroke-width="0.6"/>
<ellipse cx="312.3" cy="226.5" rx="1.3" ry="1.3" transform="rotate(0 312.3 226.5)" fill="#000" stroke="#000" stroke-width="0.6"/>
<ellipse cx="307" cy="231.3" rx="1.1" ry="1.6" transform="rotate(15 307 231.3)" fill="#000" stroke="#000" stroke-width="0.6"/>
<path d="M318.5,231.3 L325,226.5 L331,224.2 L335.5,223.5 L331,225.8 L324.5,228.3 L318.5,231.3" fill="none" stroke="#000" stroke-width="1.9" stroke-linejoin="round" stroke-linecap="round"/>
<ellipse cx="295.2" cy="290" rx="4" ry="1.8" transform="rotate(55 295.2 290)" fill="none" stroke="#000" stroke-width="1.7"/>
<ellipse cx="303.2" cy="296.1" rx="2.7" ry="2" transform="rotate(20 303.2 296.1)" fill="none" stroke="#000" stroke-width="1.7"/>
<ellipse cx="238.5" cy="313.8" rx="1.7" ry="2.8" transform="rotate(0 238.5 313.8)" fill="none" stroke="#000" stroke-width="1.7"/>
<ellipse cx="335.4" cy="302.5" rx="3.1" ry="1.6" transform="rotate(5 335.4 302.5)" fill="none" stroke="#000" stroke-width="1.7"/>
<ellipse cx="389.7" cy="329.5" rx="3" ry="3.3" transform="rotate(-20 389.7 329.5)" fill="none" stroke="#000" stroke-width="1.8"/>
<ellipse cx="402.4" cy="331.5" rx="3.8" ry="2.4" transform="rotate(10 402.4 331.5)" fill="none" stroke="#000" stroke-width="1.8"/>
<ellipse cx="426.6" cy="381.3" rx="1.4" ry="1.3" transform="rotate(0 426.6 381.3)" fill="#000" stroke="#000" stroke-width="0.5"/>
<ellipse cx="427.5" cy="386.6" rx="1.3" ry="1.3" transform="rotate(0 427.5 386.6)" fill="#000" stroke="#000" stroke-width="0.5"/>
<ellipse cx="437.5" cy="383.1" rx="1.4" ry="1.4" transform="rotate(0 437.5 383.1)" fill="#000" stroke="#000" stroke-width="0.5"/>
<ellipse cx="468" cy="355.5" rx="1.9" ry="1.4" transform="rotate(0 468 355.5)" fill="#000" stroke="#000" stroke-width="0.5"/>
<ellipse cx="523.6" cy="314.4" rx="2.5" ry="2.6" transform="rotate(-30 523.6 314.4)" fill="none" stroke="#000" stroke-width="1.8"/>
<ellipse cx="525.5" cy="337.8" rx="1.3" ry="1.3" transform="rotate(0 525.5 337.8)" fill="#000" stroke="#000" stroke-width="0.5"/>
<text x="735" y="1052.8" font-size="9.8" textLength="197.5" lengthAdjust="spacingAndGlyphs" fill="#1a0a08">&#169;Sub Bidang Prediksi Cuaca BMKG, 2026</text>
<rect x="62.5" y="132.5" width="871" height="924" fill="none" stroke="#000" stroke-width="3"/>
<rect x="971" y="226" width="19" height="32.7" fill="#E73220"/>
<rect x="971" y="258.4" width="19" height="56.3" fill="#F06451"/>
<rect x="971" y="314.4" width="19" height="56.3" fill="#FA9582"/>
<rect x="971" y="370.4" width="19" height="56.3" fill="#FFDBC7"/>
<rect x="971" y="426.4" width="19" height="56.3" fill="#CDA000"/>
<rect x="971" y="482.4" width="19" height="56.3" fill="#DDB00C"/>
<rect x="971" y="538.4" width="19" height="56.3" fill="#EBC41A"/>
<rect x="971" y="594.4" width="19" height="56.3" fill="#EECB3A"/>
<rect x="971" y="650.4" width="19" height="56.3" fill="#F4D565"/>
<rect x="971" y="706.4" width="19" height="56.3" fill="#F8E080"/>
<rect x="971" y="762.4" width="19" height="56.3" fill="#FFEC97"/>
<rect x="971" y="818.4" width="19" height="56.3" fill="#5AF55A"/>
<rect x="971" y="874.4" width="19" height="56.3" fill="#98F898"/>
<rect x="971" y="930.4" width="19" height="32.6" fill="#F9F9F9"/>
<rect x="970.5" y="224.5" width="19" height="740" fill="none" stroke="#000" stroke-width="3"/>
<line x1="990" y1="258.4" x2="1001.5" y2="258.4" stroke="#000" stroke-width="2.6"/>
<text x="1014.6" y="265" font-size="16.6" textLength="31.8" lengthAdjust="spacingAndGlyphs" fill="#000">38.0</text>
<line x1="990" y1="314.4" x2="1001.5" y2="314.4" stroke="#000" stroke-width="2.6"/>
<text x="1014.6" y="321" font-size="16.6" textLength="31.8" lengthAdjust="spacingAndGlyphs" fill="#000">37.0</text>
<line x1="990" y1="370.4" x2="1001.5" y2="370.4" stroke="#000" stroke-width="2.6"/>
<text x="1014.6" y="377" font-size="16.6" textLength="31.8" lengthAdjust="spacingAndGlyphs" fill="#000">36.0</text>
<line x1="990" y1="426.4" x2="1001.5" y2="426.4" stroke="#000" stroke-width="2.6"/>
<text x="1014.6" y="433" font-size="16.6" textLength="31.8" lengthAdjust="spacingAndGlyphs" fill="#000">35.0</text>
<line x1="990" y1="482.4" x2="1001.5" y2="482.4" stroke="#000" stroke-width="2.6"/>
<text x="1014.6" y="489" font-size="16.6" textLength="31.8" lengthAdjust="spacingAndGlyphs" fill="#000">33.0</text>
<line x1="990" y1="538.4" x2="1001.5" y2="538.4" stroke="#000" stroke-width="2.6"/>
<text x="1014.6" y="545" font-size="16.6" textLength="31.8" lengthAdjust="spacingAndGlyphs" fill="#000">30.0</text>
<line x1="990" y1="594.4" x2="1001.5" y2="594.4" stroke="#000" stroke-width="2.6"/>
<text x="1014.6" y="601" font-size="16.6" textLength="31.8" lengthAdjust="spacingAndGlyphs" fill="#000">28.0</text>
<line x1="990" y1="650.4" x2="1001.5" y2="650.4" stroke="#000" stroke-width="2.6"/>
<text x="1014.6" y="657" font-size="16.6" textLength="31.8" lengthAdjust="spacingAndGlyphs" fill="#000">26.0</text>
<line x1="990" y1="706.4" x2="1001.5" y2="706.4" stroke="#000" stroke-width="2.6"/>
<text x="1014.6" y="713" font-size="16.6" textLength="31.8" lengthAdjust="spacingAndGlyphs" fill="#000">24.0</text>
<line x1="990" y1="762.4" x2="1001.5" y2="762.4" stroke="#000" stroke-width="2.6"/>
<text x="1014.6" y="769" font-size="16.6" textLength="31.8" lengthAdjust="spacingAndGlyphs" fill="#000">22.0</text>
<line x1="990" y1="818.4" x2="1001.5" y2="818.4" stroke="#000" stroke-width="2.6"/>
<text x="1014.6" y="825" font-size="16.6" textLength="31.8" lengthAdjust="spacingAndGlyphs" fill="#000">20.0</text>
<line x1="990" y1="874.4" x2="1001.5" y2="874.4" stroke="#000" stroke-width="2.6"/>
<text x="1014.6" y="881" font-size="16.6" textLength="31.8" lengthAdjust="spacingAndGlyphs" fill="#000">18.0</text>
<line x1="990" y1="930.4" x2="1001.5" y2="930.4" stroke="#000" stroke-width="2.6"/>
<text x="1014.6" y="937" font-size="16.6" textLength="31.8" lengthAdjust="spacingAndGlyphs" fill="#000">16.0</text>
<text x="25.2" y="356.8" font-size="16.8" textLength="27.5" lengthAdjust="spacingAndGlyphs">6°S</text>
<text x="638.5" y="1079" font-size="16.8">107°E</text>
<text x="61.5" y="1100.6" font-size="16" textLength="153.5" lengthAdjust="spacingAndGlyphs">Model: WRF 10 KM</text>
<text x="765.5" y="1100.6" font-size="16" textLength="168.5" lengthAdjust="spacingAndGlyphs">Sumber: CIPS BMKG</text>
</svg>
</body></html>
